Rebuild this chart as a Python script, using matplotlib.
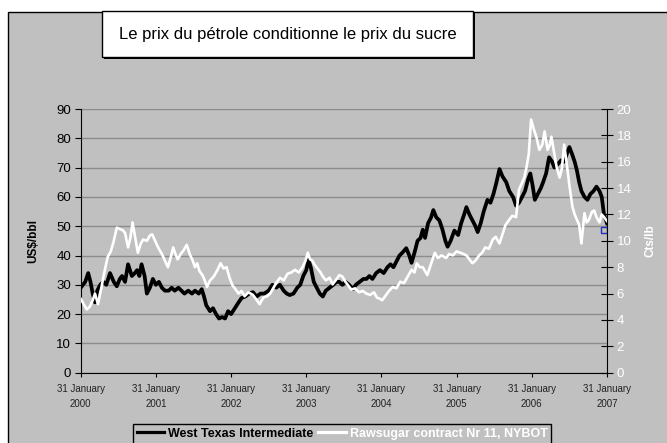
import matplotlib
matplotlib.use("Agg")
import matplotlib.pyplot as plt
from matplotlib.patches import Rectangle
from matplotlib.lines import Line2D

plt.rcParams['font.family'] = ['Liberation Sans', 'DejaVu Sans']

# temps en années depuis le 31 janvier 2000
wti_t = [0.00, 0.03, 0.06, 0.10, 0.13, 0.16, 0.19, 0.22, 0.26, 0.30, 0.34, 0.39, 0.44, 0.48,
         0.52, 0.55, 0.59, 0.63, 0.68, 0.72, 0.75, 0.78, 0.81, 0.85, 0.88, 0.92, 0.96, 1.00,
         1.04, 1.08, 1.12, 1.17, 1.21, 1.25, 1.30, 1.34, 1.38, 1.43, 1.48, 1.52, 1.57, 1.61,
         1.64, 1.67, 1.72, 1.76, 1.80, 1.84, 1.88, 1.92, 1.96, 2.00, 2.05, 2.10, 2.14, 2.19,
         2.24, 2.29, 2.34, 2.39, 2.44, 2.50, 2.55, 2.60, 2.65, 2.70, 2.74, 2.78, 2.83, 2.88,
         2.92, 2.96, 3.00, 3.03, 3.06, 3.10, 3.14, 3.18, 3.22, 3.26, 3.31, 3.36, 3.40, 3.44,
         3.48, 3.52, 3.57, 3.62, 3.66, 3.71, 3.76, 3.80, 3.84, 3.88, 3.93, 3.98, 4.03, 4.08,
         4.12, 4.16, 4.20, 4.24, 4.28, 4.33, 4.37, 4.40, 4.44, 4.48, 4.52, 4.55, 4.58, 4.62,
         4.66, 4.69, 4.73, 4.77, 4.81, 4.85, 4.88, 4.92, 4.97, 5.02, 5.06, 5.10, 5.13, 5.17,
         5.21, 5.25, 5.28, 5.32, 5.36, 5.41, 5.45, 5.49, 5.53, 5.57, 5.61, 5.66, 5.70, 5.75,
         5.79, 5.83, 5.87, 5.91, 5.95, 5.98, 6.01, 6.04, 6.08, 6.12, 6.15, 6.19, 6.23, 6.27,
         6.30, 6.34, 6.39, 6.43, 6.47, 6.50, 6.53, 6.57, 6.60, 6.63, 6.66, 6.70, 6.74, 6.78,
         6.82, 6.86, 6.90, 6.93, 6.96, 7.00]
wti_usd = [29, 30, 31, 34, 31, 27, 24, 28, 30, 31, 30, 34, 31, 29.5,
           32, 33, 31, 37, 33, 34, 35, 33, 37, 33, 27, 29, 32, 30,
           31, 29, 28, 28, 29, 28, 29, 28, 27, 28, 27, 28, 27, 28.5,
           26, 23, 21, 22, 20, 18.5, 19, 18.5, 21, 20, 22, 24, 25.5, 26,
           27, 27.5, 26, 27, 27, 28, 30, 29, 30, 28, 27, 26.5, 27, 29,
           30, 33, 35, 38.5, 36, 31, 29, 27, 26, 28, 29, 30, 31, 31,
           30, 31, 30, 28.5, 30, 31, 32, 32, 33, 32, 34, 35, 34, 36,
           37, 36, 38, 40, 41, 42.5, 40, 37.5, 41, 45, 46, 48.8, 46, 51,
           53, 55.5, 53, 52, 49, 45, 43, 45, 48.5, 47, 51, 54, 56.5, 54,
           52, 50, 48, 51, 55, 59, 58, 61, 65, 69.5, 67, 65, 62, 60,
           57, 58, 60, 62, 66, 68, 64, 59, 61, 63, 65, 68, 73.5, 72,
           70, 71, 72.5, 72, 75, 77, 75, 72, 69, 65, 62, 60, 59, 61,
           62, 63.5, 62, 60, 54, 51]

sugar_t = [0.00, 0.04, 0.08, 0.12, 0.16, 0.19, 0.23, 0.27, 0.31, 0.36, 0.40, 0.44, 0.48, 0.52,
           0.56, 0.59, 0.63, 0.66, 0.69, 0.72, 0.76, 0.80, 0.83, 0.88, 0.92, 0.95, 0.99, 1.03,
           1.08, 1.12, 1.16, 1.20, 1.23, 1.26, 1.29, 1.33, 1.37, 1.41, 1.45, 1.49, 1.52, 1.55,
           1.58, 1.62, 1.65, 1.68, 1.72, 1.77, 1.82, 1.86, 1.90, 1.94, 1.98, 2.02, 2.05, 2.10,
           2.14, 2.18, 2.23, 2.29, 2.33, 2.38, 2.43, 2.48, 2.52, 2.55, 2.60, 2.65, 2.70, 2.75,
           2.80, 2.85, 2.90, 2.95, 2.99, 3.02, 3.05, 3.08, 3.11, 3.15, 3.19, 3.22, 3.26, 3.31,
           3.35, 3.39, 3.44, 3.48, 3.52, 3.56, 3.60, 3.65, 3.70, 3.75, 3.80, 3.85, 3.90, 3.94,
           3.98, 4.01, 4.05, 4.10, 4.15, 4.20, 4.25, 4.30, 4.35, 4.40, 4.44, 4.47, 4.51, 4.55,
           4.58, 4.61, 4.65, 4.68, 4.71, 4.75, 4.80, 4.86, 4.90, 4.95, 5.00, 5.05, 5.09, 5.13,
           5.17, 5.21, 5.25, 5.30, 5.34, 5.38, 5.43, 5.48, 5.52, 5.57, 5.61, 5.65, 5.70, 5.74,
           5.79, 5.83, 5.87, 5.90, 5.93, 5.96, 5.99, 6.03, 6.06, 6.10, 6.14, 6.17, 6.21, 6.24,
           6.26, 6.30, 6.33, 6.37, 6.40, 6.43, 6.47, 6.50, 6.54, 6.57, 6.60, 6.63, 6.66, 6.70,
           6.73, 6.76, 6.80, 6.83, 6.86, 6.90, 6.93, 6.96, 7.00]
sugar_cts = [5.6, 5.2, 4.8, 5.0, 5.5, 6.0, 5.2, 6.3, 7.5, 8.8, 9.2, 10.0, 11.0, 10.9,
             10.8, 10.6, 9.5, 10.2, 11.4, 10.4, 9.1, 9.8, 10.1, 10.0, 10.4, 10.5, 10.0, 9.5,
             9.0, 8.5, 8.0, 8.8, 9.5, 9.0, 8.6, 9.0, 9.3, 9.7, 9.0, 8.5, 8.0, 8.3,
             7.7, 7.4, 7.0, 6.5, 7.0, 7.3, 7.8, 8.3, 7.9, 8.0, 7.2, 6.6, 6.4, 6.0,
             6.2, 5.8, 6.1, 5.9, 5.6, 5.2, 5.7, 5.8, 6.0, 6.3, 6.8, 7.2, 7.0, 7.5,
             7.6, 7.8, 7.6, 8.0, 8.5, 9.1, 8.6, 8.5, 8.2, 7.9, 7.6, 7.3, 7.0, 7.2,
             6.7, 7.0, 7.4, 7.3, 6.9, 6.6, 6.3, 6.4, 6.1, 6.2, 6.0, 5.9, 6.1, 5.7,
             5.6, 5.5, 5.8, 6.2, 6.5, 6.4, 6.9, 6.8, 7.3, 7.8, 7.6, 8.3, 8.0, 8.0,
             7.7, 7.4, 8.1, 8.6, 9.1, 8.7, 8.9, 8.7, 9.0, 8.9, 9.2, 9.1, 9.0, 8.9,
             8.6, 8.3, 8.5, 8.9, 9.1, 9.5, 9.4, 10.1, 10.3, 9.8, 10.5, 11.2, 11.6, 11.9,
             11.8, 13.9, 14.4, 14.8, 15.6, 16.6, 19.2, 18.4, 17.9, 16.9, 17.3, 18.3, 16.9, 17.3,
             17.9, 16.6, 15.6, 14.8, 15.5, 17.3, 15.6, 14.2, 12.6, 12.0, 11.6, 11.2, 9.8, 12.1,
             11.4, 11.6, 12.2, 12.3, 11.8, 11.4, 12.0, 11.8, 11.5]

marker_t = [6.956]
marker_cts = [10.8]

year_ticks = [0, 1, 2, 3, 4, 5, 6, 7]
year_labels = ['31 January\n2000', '31 January\n2001', '31 January\n2002', '31 January\n2003',
               '31 January\n2004', '31 January\n2005', '31 January\n2006', '31 January\n2007']

bg = '#C0C0C0'
W, H = 667, 443
fig = plt.figure(figsize=(6.67, 4.43), dpi=100, facecolor='white')

# fond gris encadré
fig.patches.append(Rectangle((8 / W, -0.05), 1.1, 1 - 12 / H + 0.05, transform=fig.transFigure,
                             facecolor=bg, edgecolor='black', lw=1, zorder=-10))

ax = fig.add_axes([80.7 / W, 1 - 372.7 / H, (607 - 80.7) / W, (372.7 - 109) / H])
ax.patch.set_alpha(0)
ax2 = ax.twinx()
ax2.patch.set_alpha(0)

ax.plot(wti_t, wti_usd, color='black', lw=2.7, solid_joinstyle='round')
ax2.plot(sugar_t, sugar_cts, color='white', lw=1.9, solid_joinstyle='round')
ax2.plot(marker_t, marker_cts, 's', ms=4, mfc='none', mec='#2030c0', mew=1)

ax.set_xlim(0, 7)
ax.set_ylim(0, 90)
ax2.set_ylim(0, 20)
ax.set_yticks(range(0, 91, 10))
ax2.set_yticks(range(0, 21, 2))
ax.set_xticks(year_ticks)
ax.set_xticklabels(year_labels, fontsize=7, color='#222222', linespacing=1.6)
ax.yaxis.grid(True, color='#8c8c8c', lw=1)
ax.set_axisbelow(True)

for a in (ax, ax2):
    a.spines['top'].set_visible(False)
ax.spines['right'].set_visible(False)
ax2.spines['left'].set_visible(False)
ax2.spines['bottom'].set_visible(False)

ax.tick_params(axis='y', direction='out', length=4, labelsize=9.5, pad=3, color='black')
ax.tick_params(axis='x', direction='out', length=3, pad=5)
ax2.tick_params(axis='y', direction='inout', length=8, labelsize=9.5, pad=3,
                labelcolor='white')

ax.set_ylabel('US$/bbl', fontsize=8.5, fontweight='bold', labelpad=12)
ax2.set_ylabel('Cts/lb', fontsize=8.5, fontweight='bold', color='white', labelpad=9)

# cadre du titre avec ombre
fig.patches.append(Rectangle((104 / W, 1 - 59 / H), 371 / W, 46 / H, transform=fig.transFigure,
                             facecolor='black', edgecolor='none', zorder=5))
fig.patches.append(Rectangle((102 / W, 1 - 57 / H), 371 / W, 46 / H, transform=fig.transFigure,
                             facecolor='white', edgecolor='black', lw=1, zorder=6))
fig.text(288 / W, 1 - 35 / H, 'Le prix du pétrole conditionne le prix du sucre',
         ha='center', va='center', fontsize=12, zorder=7)

handles = [Line2D([], [], color='black', lw=2.3), Line2D([], [], color='white', lw=2.3)]
leg = fig.legend(handles, ['West Texas Intermediate', 'Rawsugar contract Nr 11, NYBOT'],
                 loc='upper left', bbox_to_anchor=(133 / W, 1 - 424 / H), ncol=2,
                 fontsize=9, frameon=True, fancybox=False, edgecolor='black',
                 facecolor=bg, framealpha=1, handlelength=2.2, handletextpad=0.3,
                 columnspacing=0.4, borderpad=0.3, borderaxespad=0)
leg.get_frame().set_linewidth(1)
for txt, col in zip(leg.get_texts(), ['black', 'white']):
    txt.set_color(col)
    txt.set_fontweight('bold')

fig.savefig('out.png', dpi=100, facecolor='white')
